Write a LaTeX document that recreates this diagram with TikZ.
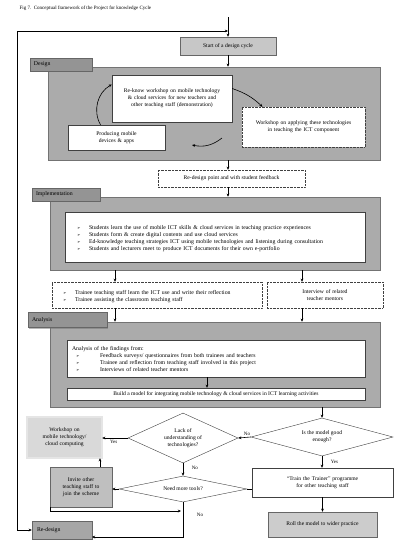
\documentclass[tikz,border=0pt]{standalone}
\usepackage{fontspec}
\setmainfont{Liberation Serif}
\newfontfamily\dejavu{DejaVu Sans}
\usetikzlibrary{shapes.geometric,arrows.meta,shadows,calc}
\newcommand\blt[1]{\par\noindent\hangindent=18pt\hangafter=1\makebox[18pt][l]{\hspace{6pt}{\dejavu\fontsize{4}{5}\selectfont ➢}}#1}
\newcommand\bltb[1]{\par\noindent\hangindent=28pt\hangafter=1\makebox[28pt][l]{\hspace{4pt}{\dejavu\fontsize{4}{5}\selectfont ➢}}#1}
\begin{document}
\begin{tikzpicture}[x=1pt,y=-1pt,
  every node/.style={font=\fontsize{5.6}{6.9}\selectfont, inner sep=1.5pt, execute at begin node={\hyphenpenalty=10000}},
  arr/.style={-{Stealth[length=3.2pt,width=2.8pt]}, line width=0.6pt},
  biarr/.style={{Stealth[length=3.2pt,width=2.8pt]}-{Stealth[length=3.2pt,width=2.8pt]}, line width=0.6pt},
  ln/.style={line width=0.6pt},
  panel/.style={draw=black!55, fill=black!33, line width=0.5pt, rectangle, inner sep=0pt},
  lbl/.style={draw=black!60, fill=black!42, rectangle, align=left, text width=#1, inner xsep=4pt,
     drop shadow={shadow xshift=1pt, shadow yshift=-1pt, fill=black!55}, font=\fontsize{5.8}{7}\selectfont},
  wbox/.style={draw=black!75, fill=white, rectangle, line width=0.4pt, align=center},
  dbox/.style={wbox, densely dotted},
  sbox/.style={draw=black!60, fill=black!22, rectangle, align=center,
     drop shadow={shadow xshift=1pt, shadow yshift=-1pt, fill=black!50}},
  dia/.style={draw=black!75, fill=white, diamond, inner sep=0pt, line width=0.4pt},
  dtext/.style={align=center, inner sep=0pt},
  lab/.style={font=\fontsize{5}{6}\selectfont, inner sep=0.5pt}
]
\useasboundingbox (0,0) rectangle (394,544);
\fill[white] (0,0) rectangle (394,544);

% title
\node[anchor=west, font=\fontsize{5}{6}\selectfont] (title) at (18,8) {Fig 7.\ \ Conceptual framework of the Project for knowledge Cycle};

% start
\node[sbox, minimum width=96, minimum height=18] (start) at (228,46) {Start of a design cycle};
\coordinate (ttop) at (228,17);
\coordinate (corner) at (17,31);
\coordinate (join) at (228,31);
\draw[arr] (ttop) -- (start.north);

% DESIGN
\node[panel, minimum width=332, minimum height=93] (dpanel) at (214,113.5) {};
\node[lbl=54, minimum height=13] (dlabel) at (61,64.5) {Design};
\node[wbox, minimum width=120, minimum height=47, text width=106] (box1) at (172,98.5)
  {Re-know workshop on mobile technology \& cloud services for new teachers and other teaching staff (demonstration)};
\node[dbox, minimum width=123, minimum height=40, text width=108] (rbox) at (303.5,127)
  {Workshop on applying these technologies in teaching the ICT component};
\node[wbox, minimum width=97, minimum height=25, text width=70] (lbox) at (116.5,137.5)
  {Producing mobile devices \& apps};
\draw[arr] ([xshift=-16pt]lbox.north) to[bend left=45] ([yshift=14pt]box1.west);
\draw[arr] ([yshift=10pt]box1.east) to[bend left=12] ([xshift=-41pt]rbox.north);
\coordinate (cb1) at (222,138);
\coordinate (cb2) at (192,145);
\draw[arr] (cb1) to[bend left=25] (cb2);

\draw[arr] (start.south) -- (start.south |- dpanel.north);

\node[wbox, densely dotted, minimum width=147, minimum height=17] (rdp) at (231.5,178.5)
  {Re-design point and with student feedback};
\draw[arr] (start.south |- dpanel.south) -- (start.south |- rdp.north);

% IMPLEMENTATION
\node[panel, minimum width=330, minimum height=73] (ipanel) at (215,233.5) {};
\node[lbl=60, minimum height=13] (ilabel) at (66,194.5) {Implementation};
\draw[arr] (start.south |- rdp.south) -- (start.south |- ipanel.north);
\node[wbox, align=left, minimum width=300, minimum height=50, text width=288, inner xsep=5pt,
  font=\fontsize{5.8}{7.3}\selectfont] (ibox) at (215,237)
  {\blt{Students learn the use of mobile ICT skills \& cloud services in teaching practice experiences}
   \blt{Students form \& create digital contents and use cloud services}
   \blt{Ed-knowledge teaching strategies ICT using mobile technologies and listening during consultation}
   \blt{Students and lecturers meet to produce ICT documents for their own e-portfolio}};

\node[dbox, align=left, minimum width=210, minimum height=26, text width=200, inner xsep=4pt,
  font=\fontsize{5.8}{7.3}\selectfont] (row1) at (157,295)
  {\blt{Trainee teaching staff learn the ICT use and write their reflection}
   \blt{Trainee assisting the classroom teaching staff}};
\node[dbox, minimum width=116, minimum height=26, text width=80] (row2) at (325,295)
  {Interview of related teacher mentors};
\coordinate (xa) at (115,0);
\coordinate (xb) at (302,0);
\draw[arr] (xa |- ipanel.south) -- (xa |- row1.north);
\draw[arr] (xb |- ipanel.south) -- (xb |- row2.north);

% ANALYSIS
\node[panel, minimum width=330, minimum height=85] (apanel) at (215,364.5) {};
\node[lbl=71, minimum height=15] (alabel) at (67.5,320) {Analysis};
\draw[arr] (xa |- row1.south) -- (xa |- apanel.north);
\draw[arr] (xb |- row2.south) -- (xb |- apanel.north);
\node[wbox, align=left, minimum width=298, minimum height=37, text width=288, inner xsep=5pt,
  font=\fontsize{5.8}{7}\selectfont] (abox1) at (216,358.5)
  {Analysis of the findings from:
   \bltb{Feedback surveys/ questionnaires from both trainees and teachers}
   \bltb{Trainee and reflection from teaching staff involved in this project}
   \bltb{Interviews of related teacher mentors}};
\node[wbox, minimum width=298, minimum height=12] (abox2) at (216,394)
  {Build a model for integrating mobile technology \& cloud services in ICT learning activities};
\coordinate (xc) at (207,0);
\draw[arr] (xc |- abox1.south) -- (xc |- abox2.north);

% DECISIONS
\node[dia, minimum width=142, minimum height=38] (rdia) at (322,437) {};
\node[dtext] (rdiat) at (rdia.center) {Is the model good\\enough?};
\draw[arr] (rdia.north |- apanel.south) -- (rdia.north);

\node[dia, minimum width=110, minimum height=50] (ldia) at (183,438) {};
\node[dtext] (ldiat) at (ldia.center) {Lack of\\understanding of\\technologies?};
\draw[arr] (rdia.west) -- (ldia.east) node[lab, pos=0.3, above=1pt] {No};

\node[draw=black!75, double=black!10, double distance=1.1pt, fill=black!15, rectangle, align=center,
  minimum width=75, minimum height=41, text width=62,
  drop shadow={shadow xshift=1pt, shadow yshift=-1pt, fill=black!45}] (workshop) at (64.5,437.5)
  {Workshop on mobile technology/ cloud computing};
\draw[arr] (ldia.west) -- (ldia.west -| workshop.east) node[lab, pos=0.55, below=1pt] {Yes};

\node[dia, minimum width=128, minimum height=26] (ndia) at (183,489) {};
\node[dtext] (ndiat) at (ndia.center) {Need more tools?};
\draw[arr] (ldia.south) -- (ldia.south |- ndia.north) node[lab, pos=0.4, right=8pt] {No};

\node[sbox, fill=black!25, minimum width=62, minimum height=40, text width=52] (invite) at (81,487)
  {Invite other teaching staff to join the scheme};
\draw[arr] (ndia.west) -- (ndia.west -| invite.east);
\draw[arr] ([xshift=19pt]invite.north) -- ([xshift=35.5pt]workshop.south);

\node[sbox, fill=black!35, minimum width=60, minimum height=18, align=left, text width=50,
  font=\fontsize{5.8}{7}\selectfont] (redesign) at (62,530) {Re-design};
\coordinate (j1) at (181,511);
\coordinate (j2) at (92,537);
\draw[arr] (invite.south west) |- (j1);
\draw[arr] (ndia.south) |- (j2);
\node[lab] (nolab) at (200,515) {No};
\draw[biarr] (redesign.west) -| (corner) -- (join);

\node[wbox, minimum width=141, minimum height=29, text width=120] (train) at (322.5,482.5)
  {``Train the Trainer'' programme for other teaching staff};
\draw[arr] (rdia.south) -- (rdia.south |- train.north) node[lab, pos=0.45, right=8pt] {Yes};
\draw[ln] (ndia.east) -- (ndia.east -| train.west);

\node[sbox, fill=black!20, minimum width=109, minimum height=25] (roll) at (322.5,524.5)
  {Roll the model to wider practice};
\draw[arr] (train.south) -- (roll.north);
\end{tikzpicture}
\end{document}
